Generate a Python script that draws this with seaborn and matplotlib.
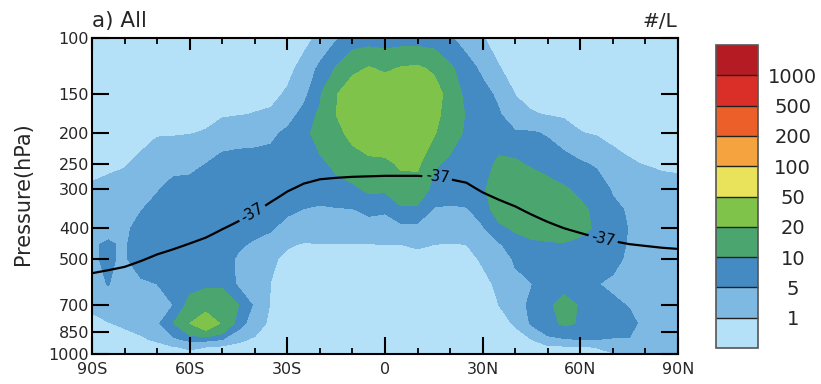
import numpy as np
import matplotlib
matplotlib.use("Agg")
import matplotlib.pyplot as plt
from matplotlib.ticker import FixedLocator, NullLocator
import seaborn as sns

# ---------------- data ----------------
lats = list(range(-90, 91, 5))
plevs = [100, 125, 150, 175, 200, 250, 300, 350, 400, 450, 500, 600, 700, 800, 900, 950, 1000]

conc_100 = [.3]*14 + [1.5, 4.5, 6, 6, 6, 6, 6, 6, 5.5, 3, 1.1] + [.3]*12
conc_125 = [.3]*13 + [1.8, 6, 10.5, 17, 21, 18, 21, 22, 18, 11, 7, 4, 1.1] + [.3]*11
conc_150 = [.3]*12 + [1.3, 3.5, 9, 19, 28, 30, 30, 30, 30, 26, 15, 8, 6.5, 4, .9] + [.3]*10
conc_175 = [.3]*8 + [.8, .9, 1.1, 1.4, 3, 6.5, 11, 20, 28, 30, 30, 30, 30, 24, 14, 9.5, 8, 5.5,
                     2, 1.2, .9, .6] + [.3]*7
conc_200 = [.3]*4 + [.8, .8, .9, 1.2, 2, 3, 3.3, 4, 6, 8.5, 12, 16, 24, 30, 30, 30, 30, 21, 13, 9,
                     8, 7.5, 5.5, 5.5, 4.5, 2.5, 1.1, .7] + [.3]*5
conc_250 = [.3, .3, .8, 1.5, 2.5, 3, 3.5, 5, 7, 7, 7, 7, 8, 8.5, 9, 11, 13, 16, 17, 22, 22, 11, 8.5,
            8, 8, 11, 11, 9, 8, 7, 5.5, 4.5, 2, 1.2, .9, .6, .5]
conc_300 = [1.3, 2, 2, 3, 4.5, 7, 7, 8, 8, 8, 8, 8, 8, 8, 8, 8.5, 9, 11, 11, 14, 15, 8, 8, 8, 9,
            14, 15, 15, 12, 10.5, 9, 7, 4.5, 3.5, 2.5, 2, 1.8]
conc_350 = [2, 2.5, 3, 4.8, 7, 8, 8, 8, 8, 8, 8, 8, 6, 4.8, 4, 4.5, 4.7, 6, 5.5, 9, 8.5, 4.5, 4,
            4.5, 7, 13, 15, 15, 14, 14, 11, 9, 6, 4.5, 3, 2.5, 2.2]
conc_400 = [3, 3.5, 3.8, 7, 8, 8, 8, 8, 8, 8, 7, 5.5, 3, 2.5, 2.5, 3, 3, 3, 3, 3.5, 3.5, 3, 3, 3,
            4.5, 8.5, 11, 14, 14, 14, 12, 9, 7, 4.8, 3.5, 2.5, 2.2]
conc_450 = [4.5, 5.6, 4.3, 8, 8, 8, 8, 8, 8, 6, 4, 3, 1.3, .8, .9, .9, .9, .9, 1.0, 1.0, 1.3, 1.0,
            .8, 1.0, 3, 4.5, 7, 8, 9, 9.5, 8, 8, 7, 4.5, 3, 2.5, 2.2]
conc_500 = [4.5, 5.6, 4.3, 8, 8, 8, 8, 8, 8, 4, 3, 1.5] + [.3]*12 + [1.3, 3, 5.5, 8, 8, 8, 8, 7.5,
            6.5, 4, 3, 2.5, 2.2]
conc_600 = [3.5, 5.2, 2.5, 4, 5, 5.5, 8, 9, 9, 4, 3, .9] + [.3]*13 + [1.5, 4, 4.8, 8, 8, 8, 5.2,
            4, 3.5, 3, 2.5, 2.2]
conc_700 = [1.5, 2, 2, 2.5, 3, 5, 12, 14, 14, 10, 4, .7] + [.3]*13 + [1.0, 3, 6, 9, 12, 9.5, 6, 6,
            4.7, 3, 2.5, 2.2]
conc_800 = [.3, .9, 1.3, 1.8, 4, 10, 20, 30, 18, 7, 2.5] + [.3]*15 + [1.2, 5.5, 8, 11, 9.5, 7, 9,
            6.5, 3.5, 2.5, 2.2]
conc_900 = [.3, .3, .3, .7, 1.3, 4, 6, 6, 5, 1.5, .6] + [.3]*16 + [.9, 4, 4.5, 5, 5, 4.5, 4.8, 3,
            2.5, 2.2]
conc_950 = [.3]*5 + [.8, 1.5, 1.0] + [.3]*21 + [.5, .8, 1.1, 1.4, 2, 2, 2, 2]
conc_1000 = [.3]*32 + [.9, 1.5, 2, 2, 2]

# -37 C isotherm (pressure, hPa) at each latitude
iso_lat = lats
iso_p = [555, 543, 530, 508, 484, 466, 447, 428, 403, 380, 356, 330, 306, 289, 280, 277, 275,
         274, 273, 273, 273, 275, 280, 287, 308, 325, 341, 362, 382, 400, 414, 428, 439, 449,
         455, 461, 465]

levels = [0, 1, 5, 10, 20, 50, 100, 200, 500, 1000, 2000]
cbar_ticks = [1, 5, 10, 20, 50, 100, 200, 500, 1000]
fill_colors = ["#B4E1F7", "#7DB9E3", "#458BC3", "#4AA66E", "#80C34A",
               "#E8E35A", "#F5A33F", "#ED5F28", "#DA2F28", "#B41B23"]
ytick_vals = [100, 150, 200, 250, 300, 400, 500, 700, 850, 1000]
xtick_vals = [-90, -60, -30, 0, 30, 60, 90]
xtick_labels = ["90S", "60S", "30S", "0", "30N", "60N", "90N"]
xminor_vals = [-80, -70, -50, -40, -20, -10, 10, 20, 40, 50, 70, 80]

# ---------------- style ----------------
sns.set_style("ticks", {"axes.axisbelow": False})
plt.rcParams["font.family"] = ["DejaVu Sans"]

fig = plt.figure(figsize=(8.21, 3.84), dpi=100)
ax = fig.add_axes([92/821, 1-354/384, (678-92)/821, (354-38)/384])

Z = np.array([conc_100, conc_125, conc_150, conc_175, conc_200, conc_250, conc_300,
              conc_350, conc_400, conc_450, conc_500, conc_600, conc_700, conc_800,
              conc_900, conc_950, conc_1000])
cf = ax.contourf(lats, plevs, Z, levels=levels, colors=fill_colors, zorder=0)
ax.set_yscale("log")
ax.set_ylim(1000, 100)
ax.set_xlim(-90, 90)

ax.xaxis.set_major_locator(FixedLocator(xtick_vals))
ax.xaxis.set_minor_locator(NullLocator())
ax.xaxis.set_ticklabels(xtick_labels)
ax.yaxis.set_major_locator(FixedLocator(ytick_vals))
ax.yaxis.set_minor_locator(NullLocator())
ax.yaxis.set_ticklabels([str(v) for v in ytick_vals])
ax.tick_params(axis="x", which="major", direction="in", length=12, width=1.5,
               top=False, bottom=True, color="black", labelsize=11.5, pad=6)
ax.tick_params(axis="y", which="major", direction="in", length=12, width=1.5,
               left=True, right=True, color="black", labelsize=11.5, pad=2)

# tick marks along top and bottom edges drawn in the x-axis blended transform
tick_tr = ax.get_xaxis_transform()
maj_frac = 12 / (354 - 38)
min_frac = 6 / (354 - 38)
ax.vlines(xtick_vals, 1 - maj_frac, 1, transform=tick_tr, colors="black",
          linewidth=1.5, zorder=6, clip_on=False)
ax.vlines(xminor_vals, 1 - min_frac, 1, transform=tick_tr, colors="black",
          linewidth=1.3, zorder=6, clip_on=False)
ax.vlines(xminor_vals, 0, min_frac, transform=tick_tr, colors="black",
          linewidth=1.3, zorder=6, clip_on=False)

# isotherm via zero contour of (p - p_iso(lat))
lat_f = np.linspace(-90, 90, 721)
p_f = np.geomspace(100, 1000, 500)
LAT, P = np.meshgrid(lat_f, p_f)
T = P - np.interp(LAT, iso_lat, iso_p)
cs = ax.contour(lat_f, p_f, T, levels=[0], colors="black", linewidths=1.6, zorder=1)
ax.clabel(cs, fmt={0: "-37"}, manual=[(-41, 355), (16, 277), (67, 432)],
          inline=True, fontsize=10.5, inline_spacing=3)

for s in ax.spines.values():
    s.set_linewidth(1.5)
    s.set_color("black")
    s.set_zorder(7)

fig.text(23/821, 1-194/384, "Pressure(hPa)", rotation=90, ha="center", va="center",
         fontsize=15)
fig.text(92/821, 1-27/384, "a) All", ha="left", va="baseline", fontsize=15.5)
fig.text(677/821, 1-27/384, "#/L", ha="right", va="baseline", fontsize=14.5)

# colorbar
cax = fig.add_axes([716/821, 1-348/384, 42/821, (348-45)/384])
cb = fig.colorbar(cf, cax=cax, ticks=cbar_ticks, spacing="uniform", drawedges=True)
cb.set_ticklabels([str(v) for v in cbar_ticks])
cax.tick_params(length=0, pad=25, labelsize=14)
for lbl in cax.get_yticklabels():
    lbl.set_ha("center")
cb.outline.set_edgecolor("#555555")
cb.outline.set_linewidth(1.2)
cb.dividers.set_color("#222222")
cb.dividers.set_linewidth(1.0)

fig.savefig("out.png", dpi=100)
